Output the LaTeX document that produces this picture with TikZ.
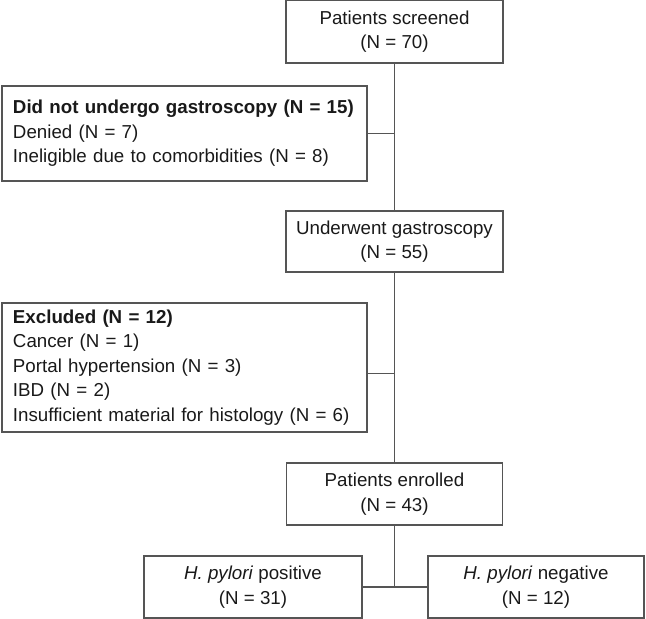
\documentclass[tikz,border=0pt]{standalone}
\usepackage{fontspec}
\setmainfont{Liberation Sans}
\usetikzlibrary{positioning}
\definecolor{linegray}{RGB}{85,85,85}
\definecolor{textgray}{RGB}{25,25,25}

\begin{document}
\begin{tikzpicture}[x=1bp, y=-1bp,
    box/.style={draw=linegray, line width=1.4bp, inner sep=0pt, align=center,
        text=textgray, minimum width=217bp, minimum height=62bp,
        font=\fontsize{18.8}{24.5}\selectfont},
    sidebox/.style={box, align=left, inner xsep=11bp, text width=343bp},
    link/.style={draw=linegray, line width=1.4bp}]
    \useasboundingbox (0,0) rectangle (646,619);

    \node[box, minimum height=63bp] (screened) at (394.5,31.5) {Patients screened\\(N = 70)};
    \node[sidebox, minimum height=95bp] (nogastro) at (184.5,133.5)
        {\textbf{Did not undergo gastroscopy (N = 15)}\\Denied (N = 7)\\Ineligible due to comorbidities (N = 8)};
    \node[box, minimum height=61bp] (gastro) at (394.5,241.5) {Underwent gastroscopy\\(N = 55)};
    \node[sidebox, minimum height=129bp] (excluded) at (184.5,367.5)
        {\textbf{Excluded (N = 12)}\\Cancer (N = 1)\\Portal hypertension (N = 3)\\IBD (N = 2)\\Insufficient material for histology (N = 6)};
    \node[box, minimum width=216bp] (enrolled) at (394.5,494) {Patients enrolled\\(N = 43)};
    \node[box, minimum width=218bp] (positive) at (253,587) {\textit{H. pylori} positive\\(N = 31)};
    \node[box, minimum width=216bp] (negative) at (536,587) {\textit{H. pylori} negative\\(N = 12)};

    \draw[link] (screened) -- (gastro);
    \draw[link] (nogastro.east) -- (nogastro.east -| screened.south);
    \draw[link] (gastro) -- (enrolled);
    \draw[link] ([yshift=-6bp]excluded.east) -- ([yshift=-6bp]excluded.east -| gastro.south);
    \draw[link] (enrolled.south) -- (enrolled.south |- positive.east);
    \draw[link] (positive) -- (negative);
\end{tikzpicture}
\end{document}
